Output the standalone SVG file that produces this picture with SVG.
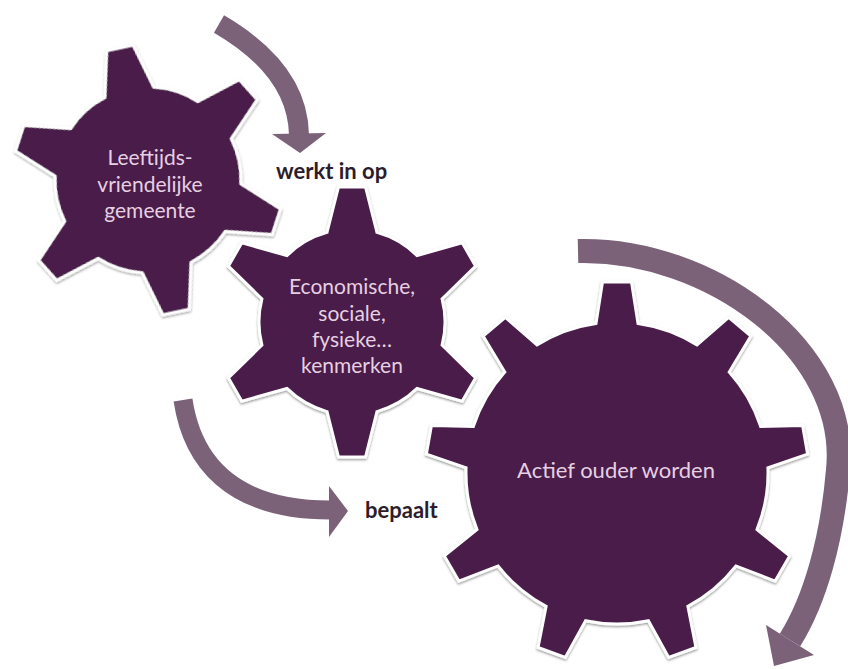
<svg xmlns="http://www.w3.org/2000/svg" xmlns:xlink="http://www.w3.org/1999/xlink" width="848" height="669" viewBox="0 0 848 669">
<style>
.gear{fill:#4a1c48;stroke:#ffffff;stroke-width:3;stroke-linejoin:miter;filter:url(#sh)}
.gt{font-family:Lato,"Open Sans","DejaVu Sans",sans-serif;font-size:21px;fill:#e6d0e2;text-anchor:middle}
.lbl{font-family:Lato,"Open Sans","DejaVu Sans",sans-serif;font-size:22px;font-weight:bold;fill:#2d1d2c}
.shaft{fill:none;stroke:#7b6278;stroke-linecap:butt}
.head{fill:#7b6278}
</style>
<defs>
<filter id="sh" x="-15%" y="-15%" width="130%" height="130%">
<feDropShadow dx="0" dy="1.5" stdDeviation="1.3" flood-color="#000000" flood-opacity="0.4"/>
</filter>
<path id="gear6" d="M -25,-89.58 L -13.5,-135 L 13.5,-135 L 25,-89.58 A 93 93 0 0 1 65.08,-66.44 L 110.16,-79.19 L 123.66,-55.81 L 90.08,-23.14 A 93 93 0 0 1 90.08,23.14 L 123.66,55.81 L 110.16,79.19 L 65.08,66.44 A 93 93 0 0 1 25,89.58 L 13.5,135 L -13.5,135 L -25,89.58 A 93 93 0 0 1 -65.08,66.44 L -110.16,79.19 L -123.66,55.81 L -90.08,23.14 A 93 93 0 0 1 -90.08,-23.14 L -123.66,-55.81 L -110.16,-79.19 L -65.08,-66.44 A 93 93 0 0 1 -25,-89.58 Z"/>
</defs>
<rect width="848" height="669" fill="#ffffff"/>

<g id="connectors">
<path class="shaft" stroke-width="20" d="M219,24 C255,45 298,80 299,135"/>
<polygon class="head" points="272,134 326,133 300,153"/>
<path class="shaft" stroke-width="19" d="M183,400 C192,460 230,510 330,510"/>
<polygon class="head" points="329,486 329,537 348,511"/>
<path class="shaft" stroke-width="24" d="M578,251 C710,248 850,350 838,470 C832,540 815,600 790,640"/>
<polygon class="head" points="766,625 814,655 774,666"/>
</g>

<g id="gear-gemeente">
<use xlink:href="#gear6" href="#gear6" class="gear" transform="translate(148,180) rotate(-12)"/>
<text class="gt" x="150" y="165">Leeftijds-</text>
<text class="gt" x="150" y="192">vriendelijke</text>
<text class="gt" x="150" y="218">gemeente</text>
</g>

<g id="gear-kenmerken">
<use xlink:href="#gear6" href="#gear6" class="gear" transform="translate(352,322)"/>
<text class="gt" x="352" y="294">Economische,</text>
<text class="gt" x="352" y="321">sociale,</text>
<text class="gt" x="352" y="347">fysieke…</text>
<text class="gt" x="352" y="373">kenmerken</text>
</g>

<g id="gear-actief">
<path class="gear" transform="translate(617,473)" d="M -21,-149.53 L -14.5,-191 L 14.5,-191 L 21,-149.53 A 151 151 0 0 1 80.03,-128.04 L 111.66,-155.63 L 133.88,-136.99 L 112.21,-101.04 A 151 151 0 0 1 143.61,-46.64 L 185.58,-47.44 L 190.62,-18.88 L 150.91,-5.28 A 151 151 0 0 1 139.99,56.58 L 172.66,82.94 L 158.16,108.06 L 118.99,92.96 A 151 151 0 0 1 70.87,133.33 L 78.95,174.52 L 51.69,184.44 L 31.41,147.69 A 151 151 0 0 1 -31.41,147.69 L -51.69,184.44 L -78.95,174.52 L -70.87,133.33 A 151 151 0 0 1 -118.99,92.96 L -158.16,108.06 L -172.66,82.94 L -139.99,56.58 A 151 151 0 0 1 -150.91,-5.28 L -190.62,-18.88 L -185.58,-47.44 L -143.61,-46.64 A 151 151 0 0 1 -112.21,-101.04 L -133.88,-136.99 L -111.66,-155.63 L -80.03,-128.04 A 151 151 0 0 1 -21,-149.53 Z"/>
<text class="gt" x="616" y="478" style="font-size:22px">Actief ouder worden</text>
</g>

<g id="labels">
<text class="lbl" x="276" y="179">werkt in op</text>
<text class="lbl" x="365" y="518">bepaalt</text>
</g>
</svg>
